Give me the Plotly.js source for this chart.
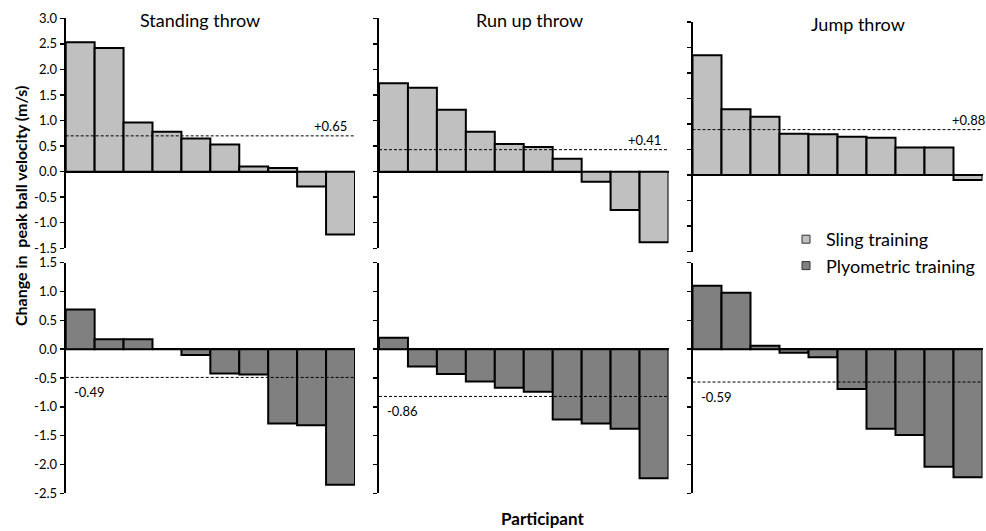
<!DOCTYPE html>
<html>
<head>
<meta charset="utf-8">
<script src="https://cdn.plot.ly/plotly-3.0.1.min.js"></script>
<style>
html,body{margin:0;padding:0;background:#fff;}
#chart{width:986px;height:531px;}
</style>
</head>
<body>
<div id="chart"></div>
<script>
// ---- data ----
const participants = [1,2,3,4,5,6,7,8,9,10];
const panelTitles = ["Standing throw", "Run up throw", "Jump throw"];
const slingStanding = [2.53, 2.42, 0.96, 0.78, 0.65, 0.53, 0.10, 0.07, -0.29, -1.23];
const slingRunUp    = [1.73, 1.64, 1.21, 0.78, 0.54, 0.48, 0.25, -0.20, -0.75, -1.38];
const slingJump     = [2.35, 1.29, 1.14, 0.81, 0.80, 0.75, 0.73, 0.54, 0.54, -0.10];
const plyoStanding  = [0.69, 0.17, 0.17, 0.00, -0.10, -0.42, -0.44, -1.29, -1.32, -2.35];
const plyoRunUp     = [0.20, -0.30, -0.43, -0.56, -0.67, -0.74, -1.22, -1.29, -1.38, -2.24];
const plyoJump      = [1.10, 0.98, 0.06, -0.06, -0.14, -0.69, -1.38, -1.49, -2.04, -2.22];
const slingMeanLine = [0.70, 0.43, 0.89];
const plyoMeanLine  = [-0.49, -0.82, -0.57];
const slingMeanText = ["+0.65", "+0.41", "+0.88"];
const plyoMeanText  = ["-0.49", "-0.86", "-0.59"];
const seriesNames = ["Sling training", "Plyometric training"];
const topTicks = [3.0, 2.5, 2.0, 1.5, 1.0, 0.5, 0.0, -0.5, -1.0, -1.5];
const bottomTicks = [1.5, 1.0, 0.5, 0.0, -0.5, -1.0, -1.5, -2.0, -2.5];

// ---- layout helpers ----
const W = 986, H = 531;
const px = v => v / W;
const py = v => 1 - v / H;
const FONT = "Lato, 'Open Sans', sans-serif";
const slingColor = "#c0c0c0";
const plyoColor = "#808080";

const xDomains = [[px(65.7), px(355)], [px(379), px(668.5)], [px(692.5), px(982.5)]];
const topYDomains = [[py(248.3), py(18.3)], [py(248.3), py(18.3)], [py(251.5), py(22)]];
const botYDomains = [[py(493.3), py(262.7)], [py(493.3), py(262.7)], [py(493.3), py(262.7)]];

const slingSets = [slingStanding, slingRunUp, slingJump];
const plyoSets = [plyoStanding, plyoRunUp, plyoJump];

const traces = [];
const layout = {
  width: W, height: H,
  margin: {l: 0, r: 0, t: 0, b: 0},
  paper_bgcolor: "#fff", plot_bgcolor: "rgba(0,0,0,0)",
  bargap: 0,
  showlegend: true,
  font: {family: FONT, color: "#000", size: 13},
  legend: {
    x: px(786), y: py(221), xanchor: "left", yanchor: "top",
    font: {family: FONT, size: 18, color: "#000"},
    bgcolor: "rgba(0,0,0,0)", itemwidth: 30, tracegroupgap: 0
  },
  shapes: [], annotations: []
};

function yaxisDef(range, ticks, domain, showLabels) {
  return {
    domain: domain, range: range, tickvals: ticks,
    ticktext: ticks.map(t => t.toFixed(1)),
    showticklabels: showLabels,
    ticks: "outside", ticklen: 4, tickwidth: 1.5, tickcolor: "#000",
    showline: true, linecolor: "#000", linewidth: 2,
    showgrid: false, zeroline: true, zerolinecolor: "#000", zerolinewidth: 2,
    tickfont: {family: FONT, size: 13, color: "#000"},
    fixedrange: true
  };
}
function xaxisDef(domain, anchor) {
  return {
    domain: domain, range: [0.5, 10.5], anchor: anchor,
    showticklabels: false, showline: false, showgrid: false,
    zeroline: false, ticks: "", fixedrange: true
  };
}

for (let i = 0; i < 3; i++) {
  const tIdx = i + 1;      // top axes 1..3
  const bIdx = i + 4;      // bottom axes 4..6
  const tx = tIdx === 1 ? "x" : "x" + tIdx, ty = tIdx === 1 ? "y" : "y" + tIdx;
  const bx = "x" + bIdx, by = "y" + bIdx;

  layout[tIdx === 1 ? "xaxis" : "xaxis" + tIdx] = xaxisDef(xDomains[i], ty);
  layout[tIdx === 1 ? "yaxis" : "yaxis" + tIdx] = Object.assign(
    yaxisDef([-1.5, 3.0], topTicks, topYDomains[i], i === 0), {anchor: tx});
  layout["xaxis" + bIdx] = xaxisDef(xDomains[i], by);
  layout["yaxis" + bIdx] = Object.assign(
    yaxisDef([-2.5, 1.5], bottomTicks, botYDomains[i], i === 0), {anchor: bx});

  traces.push({
    type: "bar", x: participants, y: slingSets[i], xaxis: tx, yaxis: ty,
    name: seriesNames[0], showlegend: false,
    marker: {color: slingColor, line: {color: "#000", width: 2}},
    hoverinfo: "y"
  });
  traces.push({
    type: "bar", x: participants, y: plyoSets[i], xaxis: bx, yaxis: by,
    name: seriesNames[1], showlegend: false,
    marker: {color: plyoColor, line: {color: "#000", width: 2}},
    hoverinfo: "y"
  });

  // dashed mean lines
  layout.shapes.push({
    type: "line", xref: tx + " domain", yref: ty, x0: 0, x1: 1,
    y0: slingMeanLine[i], y1: slingMeanLine[i],
    line: {color: "#000", width: 1, dash: "3px,2px"}
  });
  layout.shapes.push({
    type: "line", xref: bx + " domain", yref: by, x0: 0, x1: 1,
    y0: plyoMeanLine[i], y1: plyoMeanLine[i],
    line: {color: "#000", width: 1, dash: "3px,2px"}
  });

  // mean labels
  layout.annotations.push({
    xref: tx + " domain", yref: ty, x: 1, y: slingMeanLine[i],
    xanchor: "right", yanchor: "bottom", xshift: i === 2 ? 4 : -6, yshift: 0,
    text: slingMeanText[i], showarrow: false,
    font: {family: FONT, size: 13, color: "#000"}
  });
  layout.annotations.push({
    xref: bx + " domain", yref: by, x: 0, y: plyoMeanLine[i],
    xanchor: "left", yanchor: "top", xshift: 6, yshift: -5,
    text: plyoMeanText[i], showarrow: false,
    font: {family: FONT, size: 13, color: "#000"}
  });
}

// legend entries (small square keys like the original)
traces.push({
  type: "scatter", mode: "markers", x: [null], y: [null], xaxis: "x", yaxis: "y",
  name: seriesNames[0], showlegend: true,
  marker: {symbol: "square", size: 8, color: slingColor, line: {color: "#333", width: 1}}
});
traces.push({
  type: "scatter", mode: "markers", x: [null], y: [null], xaxis: "x4", yaxis: "y4",
  name: seriesNames[1], showlegend: true,
  marker: {symbol: "square", size: 8, color: plyoColor, line: {color: "#333", width: 1}}
});

// panel titles
const titleX = [200, 529, 858];
const titleY = [20, 20, 24];
for (let i = 0; i < 3; i++) {
  layout.annotations.push({
    xref: "paper", yref: "paper", x: px(titleX[i]), y: py(titleY[i]),
    xanchor: "center", yanchor: "middle", text: panelTitles[i], showarrow: false,
    font: {family: FONT, size: 18, color: "#000"}
  });
}
// axis titles
layout.annotations.push({
  xref: "paper", yref: "paper", x: px(542), y: py(518),
  xanchor: "center", yanchor: "middle", text: "<b>Participant</b>", showarrow: false,
  font: {family: FONT, size: 17, color: "#000"}
});
layout.annotations.push({
  xref: "paper", yref: "paper", x: px(20), y: py(206),
  xanchor: "center", yanchor: "middle", textangle: -90,
  text: "<b>Change in  peak ball velocity (m/s)</b>", showarrow: false,
  font: {family: FONT, size: 16, color: "#000"}
});

Plotly.newPlot("chart", traces, layout, {staticPlot: true, displayModeBar: false});
</script>
</body>
</html>
